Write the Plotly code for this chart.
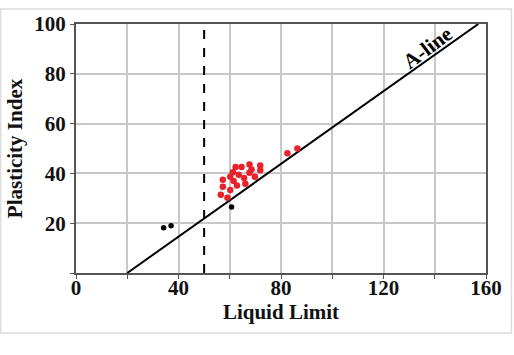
import plotly.graph_objects as go

# Data
red_ll = [82.5, 86.4, 62.3, 64.6, 67.7, 71.9, 71.9, 68.5, 67.7, 61.2, 63.5, 60.2, 57.3,
          61.5, 65.6, 69.8, 66.1, 62.8, 57.3, 60.2, 56.5, 59.1]
red_pi = [48.1, 50.0, 42.6, 42.6, 43.6, 43.2, 41.3, 41.6, 40.3, 40.5, 39.5, 38.7, 37.4,
          36.9, 38.2, 38.7, 35.8, 35.1, 34.6, 33.3, 31.4, 30.2]
black_ll = [34.2, 37.1, 60.7]
black_pi = [18.2, 19.0, 26.5]
aline_ll = [20, 157]
aline_pi = [0.73 * (v - 20) for v in aline_ll]
divider_ll = [50, 50]
divider_pi = [0, 100]
x_ticks = [0, 20, 40, 60, 80, 100, 120, 140, 160]
x_labels = ["0", "", "40", "", "80", "", "120", "", "160"]
y_ticks = [0, 20, 40, 60, 80, 100]
y_labels = ["", "20", "40", "60", "80", "100"]

font = "Liberation Serif"
W, H = 514, 355
ML, MR, MT, MB = 76, 27, 16, 82
pw, ph = W - ML - MR, H - MT - MB

fig = go.Figure()
fig.add_trace(go.Scatter(x=aline_ll, y=aline_pi, mode="lines",
                         line=dict(color="black", width=2), hoverinfo="skip"))
fig.add_trace(go.Scatter(x=divider_ll, y=divider_pi, mode="lines",
                         line=dict(color="black", width=2, dash="dash"), hoverinfo="skip"))
fig.add_trace(go.Scatter(x=red_ll, y=red_pi, mode="markers",
                         marker=dict(color="#e8212b", size=6.5)))
fig.add_trace(go.Scatter(x=black_ll, y=black_pi, mode="markers",
                         marker=dict(color="black", size=5.5)))

fig.add_annotation(x=137, y=90.5, text="<b>A-line</b>", showarrow=False, textangle=-37,
                   font=dict(family=font, size=21, color="black"))

# light outer frame of the figure
fig.add_shape(type="rect", xref="paper", yref="paper",
              x0=(0.5 - ML) / pw, x1=(512.5 - ML) / pw,
              y0=(H - MB - 335) / ph, y1=(H - MB - 0.5) / ph,
              line=dict(color="#dddddd", width=1.5), layer="below")

tf = dict(family=font, size=21, color="#111111", weight="bold")
axis_common = dict(showgrid=True, gridcolor="#c8c8c8", gridwidth=1.5,
                   showline=True, linecolor="#555555", linewidth=2, mirror=True,
                   ticks="outside", ticklen=4, tickcolor="#555555", zeroline=False,
                   tickfont=tf)
fig.update_xaxes(range=[0, 160], tickvals=x_ticks, ticktext=x_labels,
                 title=dict(text="<b>Liquid Limit</b>", font=dict(family=font, size=21, color="#111111"), standoff=0),
                 ticklabelstandoff=-9,
                 **axis_common)
fig.update_yaxes(range=[0, 100], tickvals=y_ticks, ticktext=y_labels,
                 title=dict(text="<b>Plasticity Index</b>", font=dict(family=font, size=21, color="#111111"), standoff=6),
                 **axis_common)
fig.update_layout(width=W, height=H, showlegend=False,
                  margin=dict(l=ML, r=MR, t=MT, b=MB),
                  paper_bgcolor="white", plot_bgcolor="white",
                  font=dict(family=font))
fig.write_html("out.html")
